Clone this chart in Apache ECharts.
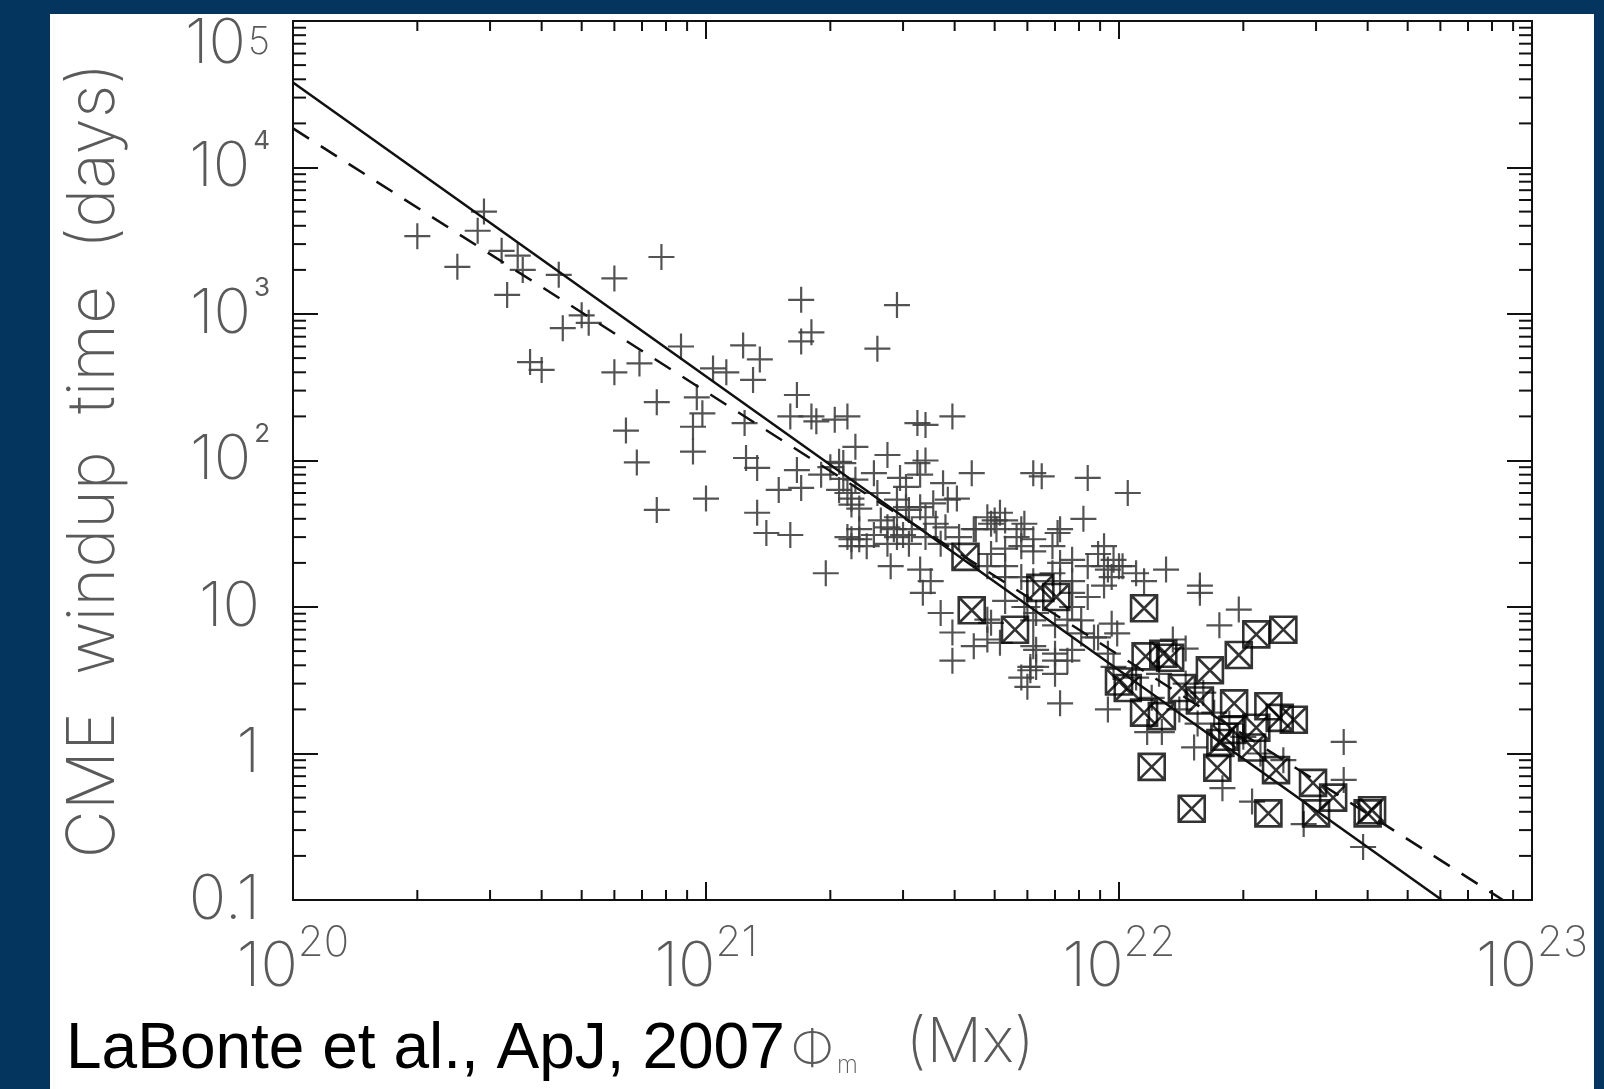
<!DOCTYPE html>
<html>
<head>
<meta charset="utf-8">
<script src="https://cdn.jsdelivr.net/npm/echarts@6/dist/echarts.min.js"></script>
<style>
  html, body { margin: 0; padding: 0; background: #03355f; }
  #chart { width: 1604px; height: 1089px; }
</style>
</head>
<body>
<div id="chart"></div>
<script>
// Each event: [peak magnetic flux (Mx), CME windup time (days)]
const crossPoints = [
  [2.0e20, 3400], [2.9e20, 5000], [2.8e20, 3700], [2.5e20, 2100], [3.2e20, 2700],
  [3.5e20, 2500], [3.6e20, 2000], [4.4e20, 1850], [3.3e20, 1350], [6.0e20, 1750],
  [7.8e20, 2450], [5.0e20, 980], [4.5e20, 800], [5.2e20, 870], [3.75e20, 470],
  [4.0e20, 415], [6.0e20, 400], [6.9e20, 460], [8.7e20, 600], [7.6e20, 250],
  [9.5e20, 270], [6.4e20, 160], [6.8e20, 97], [7.6e20, 46], [9.3e20, 115],
  [9.3e20, 170], [1.0e21, 55], [9.8e20, 210],
  [1.23e21, 610], [1.35e21, 490], [1.7e21, 1250], [1.8e21, 750], [1.7e21, 650],
  [1.04e21, 425], [1.12e21, 400], [1.3e21, 355], [1.24e21, 180], [1.25e21, 104],
  [1.33e21, 89], [1.33e21, 44], [1.4e21, 32], [1.6e21, 31], [1.5e21, 63],
  [1.66e21, 86], [1.7e21, 65], [1.9e21, 80], [1.66e21, 280], [1.6e21, 200],
  [1.8e21, 200], [1.85e21, 185], [2.05e21, 190], [2.2e21, 200], [2.1e21, 98],
  [2.15e21, 75], [2.2e21, 60], [2.25e21, 50], [2.25e21, 29], [1.95e21, 17],
  [2.9e21, 1150], [2.6e21, 580], [3.25e21, 180], [3.4e21, 175], [3.95e21, 200],
  [2.3e21, 124], [2.75e21, 109], [3.4e21, 100], [4.4e21, 82], [6.2e21, 82],
  [6.5e21, 78], [8.4e21, 76], [1.05e22, 60], [8.2e21, 40], [7.1e21, 32],
  [2.15e21, 96], [2.0e21, 90], [2.55e21, 82], [2.95e21, 76], [3.05e21, 66],
  [3.3e21, 80], [3.75e21, 70], [4.05e21, 55], [2.25e21, 55], [2.35e21, 47],
  [2.6e21, 60], [2.9e21, 54], [3.1e21, 46], [3.4e21, 41], [3.6e21, 37],
  [3.8e21, 35], [2.2e21, 30], [2.35e21, 29], [2.45e21, 26], [2.75e21, 27],
  [2.9e21, 30], [3.1e21, 27], [2.8e21, 19], [3.3e21, 18], [3.35e21, 12.5],
  [3.5e21, 15], [3.7e21, 9.1], [3.95e21, 6.7], [3.95e21, 4.3], [4.5e21, 34],
  [4.9e21, 37], [5.0e21, 39], [5.65e21, 30], [5.9e21, 37], [7.2e21, 34],
  [5.3e21, 25], [5.8e21, 26], [6.2e21, 24], [7.2e21, 20], [4.8e21, 19],
  [5.3e21, 16], [9.2e21, 19], [9.6e21, 16], [9.2e21, 14], [8.4e21, 11.7],
  [7.7e21, 10], [8.1e21, 8.1], [6.0e21, 10], [6.2e21, 8.1], [4.9e21, 7.8],
  [5.15e21, 5.7], [6.3e21, 5.1], [7.0e21, 4.3], [6.1e21, 3.9], [7.7e21, 5.1],
  [8.7e21, 6.2], [9.6e21, 7.7], [9.9e21, 6.6], [7.2e21, 2.2], [3.25e21, 96],
  [2.3e21, 74], [2.1e21, 63], [2.65e21, 39], [2.85e21, 34], [9.2e21, 26],
  [9.4e21, 18], [1.02e22, 19], [1.15e22, 15],
  [1.3e22, 18], [1.57e22, 14], [1.57e22, 12.5], [1.95e22, 9.6], [1.75e22, 7.5],
  [3.5e22, 1.2], [3.5e22, 0.66], [2.8e22, 0.33], [1.78e22, 0.58], [2.1e22, 0.47],
  [1.52e22, 1.1], [9.4e21, 2.0], [1.17e22, 1.4], [1.27e22, 1.4], [6.1e21, 3.7],
  [1.0e22, 19], [1.1e22, 17], [3.9e22, 0.23],
  [2.35e21, 34], [2.55e21, 31], [2.25e21, 26], [2.75e21, 35], [2.9e21, 41],
  [3.05e21, 48], [3.3e21, 48], [3.55e21, 51], [3.85e21, 54], [3.0e21, 31],
  [3.15e21, 34], [3.4e21, 30], [3.7e21, 27], [4.1e21, 30], [4.45e21, 34],
  [4.8e21, 41], [5.15e21, 44], [5.05e21, 34], [5.3e21, 39], [5.8e21, 34],
  [6.2e21, 29], [6.9e21, 26], [7.7e21, 21], [8.4e21, 19], [8.9e21, 23],
  [9.7e21, 21], [4.9e21, 23], [5.3e21, 19], [5.8e21, 16], [6.2e21, 15],
  [6.9e21, 17], [7.2e21, 15], [7.7e21, 15], [7.7e21, 12.5], [5.3e21, 11],
  [5.9e21, 10], [6.3e21, 9.1], [7.0e21, 7.5], [7.5e21, 8.2], [8.1e21, 6.6],
  [8.9e21, 6.2], [9.4e21, 4.8], [9.7e21, 3.9], [4.8e21, 8.2], [4.8e21, 6.0],
  [4.45e21, 5.4], [6.2e21, 5.4], [7.0e21, 4.8], [7.5e21, 4.3], [6.3e21, 3.9],
  [5.8e21, 3.3], [7.0e21, 3.5], [6.0e21, 2.85],
  [1.25e22, 3.5], [1.45e22, 3.0], [1.6e22, 2.6], [1.7e22, 1.9], [1.85e22, 1.6],
  [2.0e22, 1.3], [1.4e22, 2.0], [1.55e22, 1.6], [2.2e22, 1.0], [2.5e22, 0.9],
  [1.35e22, 6.0], [1.45e22, 5.2], [1.1e22, 3.3], [1.2e22, 2.4]
];

// Events drawn with a boxed cross
const boxedPoints = [
  [4.25e21, 22], [4.4e21, 9.5], [5.6e21, 7.0], [6.45e21, 13.5], [7.05e21, 11.7],
  [1.15e22, 9.8], [2.15e22, 6.5], [2.5e22, 7.0], [1.95e22, 4.7], [1.33e22, 4.5],
  [1.28e22, 4.8], [1.16e22, 4.6], [1.05e22, 2.8], [1.0e22, 3.1], [1.15e22, 1.9],
  [1.27e22, 1.8], [1.42e22, 2.8], [1.2e22, 0.81], [1.5e22, 0.42], [1.73e22, 0.8],
  [1.76e22, 1.18], [1.57e22, 2.3], [1.9e22, 2.2], [2.3e22, 2.1], [2.65e22, 1.7],
  [2.4e22, 0.77], [2.95e22, 0.63], [3.3e22, 0.5], [3.0e22, 0.39], [4.0e22, 0.39],
  [4.1e22, 0.41], [2.3e22, 0.39], [1.66e22, 3.7], [1.8e22, 1.3], [2.1e22, 1.1],
  [1.88e22, 1.45], [2.15e22, 1.5], [2.45e22, 1.75]
];

// Power-law fits, given by the points where they leave the frame
const fitSolid = [[1e20, 3.8e4], [6.05e22, 0.1]];
const fitDashed = [[1e20, 1.85e4], [8.5e22, 0.1]];

// Axis decades
const fluxDecades = [1e20, 1e21, 1e22, 1e23];
const windupDecades = [0.1, 1, 10, 100, 1e3, 1e4, 1e5];

const FLUX_MIN = fluxDecades[0], FLUX_MAX = fluxDecades[fluxDecades.length - 1];
const DAY_MIN = windupDecades[0], DAY_MAX = windupDecades[windupDecades.length - 1];

// Minor tick positions: 2..9 within every decade
function minorTicks(decades) {
  const out = [];
  for (let i = 0; i < decades.length - 1; i++) {
    for (let k = 2; k <= 9; k++) out.push(k * decades[i]);
  }
  return out;
}
const fluxMinor = minorTicks(fluxDecades);
const windupMinor = minorTicks(windupDecades);

const LABEL_FONT = "Inter, 'DejaVu Sans', 'Noto Sans', sans-serif";
const LABEL_GREY = '#5a5a5a';
const INK = '#111111';

const crossSymbol = 'path://M0,13H26M13,0V26';
const boxSymbol = 'path://M0,0H26V26H0Z M0,0L26,26 M26,0L0,26';

function exponentOf(v) { return Math.round(Math.log10(v)); }

function fluxLabel(v) {
  return '{b|10}{s|' + exponentOf(v) + '}';
}
function windupLabel(v) {
  const e = exponentOf(v);
  if (e === -1) return '{p|0.1}';
  if (e === 0) return '{p|1}';
  if (e === 1) return '{p|10}';
  if (e === 5) return '{t|10}{ts|5}';
  return '{n|10}{s|' + e + '}';
}

const chart = echarts.init(document.getElementById('chart'), null, { renderer: 'canvas' });

const baseText = { fontFamily: LABEL_FONT, fontWeight: 250, color: LABEL_GREY };
const supText = { fontFamily: LABEL_FONT, fontWeight: 400, color: LABEL_GREY };

function frameAxis(extra) {
  return Object.assign({
    type: 'log',
    logBase: 10,
    axisLine: { show: true, onZero: false, lineStyle: { color: INK, width: 2 } },
    axisTick: { show: true, inside: true, lineStyle: { color: INK, width: 2 } },
    splitLine: { show: false },
    minorTick: { show: false },
    minorSplitLine: { show: false }
  }, extra);
}

function tickRender(isX) {
  return function (params, api) {
    const v = api.value(isX ? 0 : 1);
    const len = isX ? 10 : 13;
    let a, b;
    if (isX) {
      a = api.coord([v, DAY_MIN]);
      b = api.coord([v, DAY_MAX]);
      return {
        type: 'group',
        children: [
          { type: 'line', shape: { x1: a[0], y1: a[1], x2: a[0], y2: a[1] - len }, style: { stroke: INK, lineWidth: 2 } },
          { type: 'line', shape: { x1: b[0], y1: b[1], x2: b[0], y2: b[1] + len }, style: { stroke: INK, lineWidth: 2 } }
        ]
      };
    }
    a = api.coord([FLUX_MIN, v]);
    b = api.coord([FLUX_MAX, v]);
    return {
      type: 'group',
      children: [
        { type: 'line', shape: { x1: a[0], y1: a[1], x2: a[0] + len, y2: a[1] }, style: { stroke: INK, lineWidth: 2 } },
        { type: 'line', shape: { x1: b[0], y1: b[1], x2: b[0] - len, y2: b[1] }, style: { stroke: INK, lineWidth: 2 } }
      ]
    };
  };
}

const option = {
  backgroundColor: '#03355f',
  animation: false,
  grid: { left: 293, right: 72, top: 21, bottom: 189, containLabel: false, outerBoundsMode: 'none' },
  graphic: [
    {
      type: 'rect', z: -10, silent: true,
      shape: { x: 50, y: 14, width: 1544, height: 1075 },
      style: { fill: '#ffffff' }
    },
    {
      type: 'text', z: 10, silent: true,
      style: {
        text: 'LaBonte et al., ApJ, 2007',
        x: 66, y: 1050,
        fontFamily: "'Liberation Sans', Arial, Helvetica, sans-serif",
        fontSize: 64, fill: '#000000',
        align: 'left', verticalAlign: 'middle'
      }
    }
  ],
  xAxis: [
    frameAxis({
      position: 'bottom', min: FLUX_MIN, max: FLUX_MAX, splitNumber: 3,
      axisTick: { show: true, inside: true, length: 18, lineStyle: { color: INK, width: 2 } },
      axisLabel: {
        show: true, margin: 36, formatter: fluxLabel,
        rich: {
          b: Object.assign({ fontSize: 62, lineHeight: 62 }, baseText),
          s: Object.assign({ fontSize: 42, lineHeight: 62, verticalAlign: 'top', padding: [-14, 0, 0, 0] }, baseText)
        }
      },
      name: '{phi|\u03a6}{m|m}{u|(Mx)}',
      nameLocation: 'middle',
      nameGap: 108,
      nameTextStyle: {
        rich: {
          phi: Object.assign({ fontSize: 50, lineHeight: 70, verticalAlign: 'bottom', padding: [0, 0, 2, 0] }, baseText),
          m: Object.assign({ fontSize: 24, lineHeight: 70, verticalAlign: 'bottom', padding: [0, 48, 0, 3] }, baseText),
          u: Object.assign({ fontSize: 62, lineHeight: 70 }, baseText)
        }
      }
    }),
    frameAxis({
      position: 'top', min: FLUX_MIN, max: FLUX_MAX, splitNumber: 3,
      axisTick: { show: true, inside: true, length: 18, lineStyle: { color: INK, width: 2 } },
      axisLabel: { show: false }
    })
  ],
  yAxis: [
    frameAxis({
      position: 'left', min: DAY_MIN, max: DAY_MAX, splitNumber: 6,
      axisTick: { show: true, inside: true, length: 25, lineStyle: { color: INK, width: 2 } },
      axisLabel: {
        show: true, margin: 23, formatter: windupLabel,
        rich: {
          n: Object.assign({ fontSize: 62, lineHeight: 62 }, baseText),
          p: Object.assign({ fontSize: 62, lineHeight: 62, padding: [0, 10, 0, 0] }, baseText),
          s: Object.assign({ fontSize: 26, lineHeight: 62, verticalAlign: 'top', padding: [-8, 0, 0, 3] }, supText),
          t: Object.assign({ fontSize: 62, lineHeight: 62, padding: [46, 0, 0, 0] }, baseText),
          ts: Object.assign({ fontSize: 38, lineHeight: 62, verticalAlign: 'top', padding: [34, 0, 0, 2] }, baseText)
        }
      },
      name: 'CME  windup  time  (days)',
      nameLocation: 'middle',
      nameRotate: 90,
      nameGap: 166,
      nameTextStyle: Object.assign({ fontSize: 66 }, baseText)
    }),
    frameAxis({
      position: 'right', min: DAY_MIN, max: DAY_MAX, splitNumber: 6,
      axisTick: { show: true, inside: true, length: 25, lineStyle: { color: INK, width: 2 } },
      axisLabel: { show: false }
    })
  ],
  series: [
    {
      name: 'events', type: 'scatter', xAxisIndex: 0, yAxisIndex: 0,
      data: crossPoints, symbol: crossSymbol, symbolSize: 26, silent: true,
      itemStyle: { color: 'rgba(0,0,0,0)', borderColor: '#404040', borderWidth: 2.2, opacity: 0.9 },
      z: 2
    },
    {
      name: 'boxed events', type: 'scatter', xAxisIndex: 0, yAxisIndex: 0,
      data: boxedPoints, symbol: boxSymbol, symbolSize: 26, silent: true,
      itemStyle: { color: 'rgba(0,0,0,0)', borderColor: '#000000', borderWidth: 2.6 },
      z: 3
    },
    {
      name: 'fit (solid)', type: 'line', xAxisIndex: 0, yAxisIndex: 0,
      data: fitSolid, showSymbol: false, symbol: 'none', silent: true,
      lineStyle: { color: INK, width: 2.5, type: 'solid' }, z: 4
    },
    {
      name: 'fit (dashed)', type: 'line', xAxisIndex: 0, yAxisIndex: 0,
      data: fitDashed, showSymbol: false, symbol: 'none', silent: true,
      lineStyle: { color: INK, width: 2.5, type: [19, 14] }, z: 4
    },
    {
      name: 'flux minor ticks', type: 'custom', xAxisIndex: 0, yAxisIndex: 0,
      data: fluxMinor.map(v => [v, DAY_MIN]), renderItem: tickRender(true),
      clip: false, silent: true, z: 5
    },
    {
      name: 'windup minor ticks', type: 'custom', xAxisIndex: 0, yAxisIndex: 0,
      data: windupMinor.map(v => [FLUX_MIN, v]), renderItem: tickRender(false),
      clip: false, silent: true, z: 5
    }
  ]
};

chart.setOption(option);
</script>
</body>
</html>
